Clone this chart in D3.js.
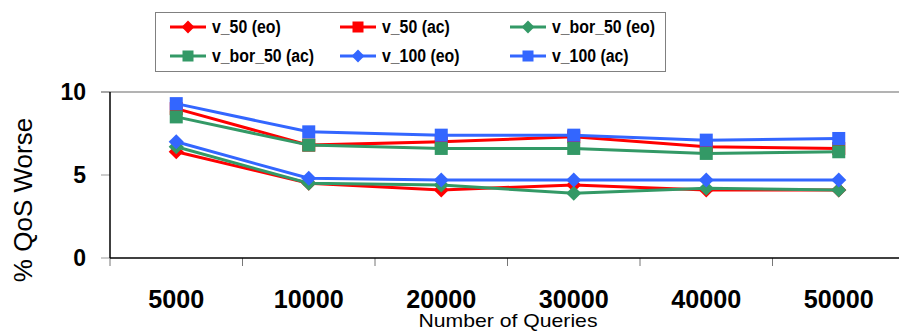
<!DOCTYPE html>
<html>
<head>
<meta charset="utf-8">
<script src="https://cdn.jsdelivr.net/npm/d3@7/dist/d3.min.js"></script>
<style>
html,body{margin:0;padding:0;background:#fff;}
svg{display:block;font-family:"Liberation Sans",Arial,sans-serif;}
</style>
</head>
<body>
<svg id="chart" width="899" height="332"></svg>
<script>
const categories = ["5000","10000","20000","30000","40000","50000"];
const yTicks = [0,5,10];
const seriesNames = ["v_50 (eo)","v_50 (ac)","v_bor_50 (eo)","v_bor_50 (ac)","v_100 (eo)","v_100 (ac)"];
const seriesColors = ["#ff0000","#ff0000","#339966","#339966","#3366ff","#3366ff"];
const seriesShapes = ["diamond","square","diamond","square","diamond","square"];
const v50_eo    = [6.4, 4.5, 4.1, 4.4, 4.1, 4.1];
const v50_ac    = [9.0, 6.8, 7.0, 7.3, 6.7, 6.6];
const vbor50_eo = [6.7, 4.5, 4.4, 3.9, 4.2, 4.1];
const vbor50_ac = [8.5, 6.8, 6.6, 6.6, 6.3, 6.4];
const v100_eo   = [7.0, 4.8, 4.7, 4.7, 4.7, 4.7];
const v100_ac   = [9.3, 7.6, 7.4, 7.4, 7.1, 7.2];
const seriesValues = [v50_eo, v50_ac, vbor50_eo, vbor50_ac, v100_eo, v100_ac];

const svg = d3.select("#chart");
const pLeft = 110, pRight = 905, pTop = 92, pBottom = 258;

const x = d3.scaleBand().domain(categories).range([pLeft, pRight]).padding(0);
const y = d3.scaleLinear().domain([0, 10]).range([pBottom, pTop]);

// gridline at top
svg.append("line").attr("x1", pLeft - 9).attr("x2", 899).attr("y1", y(10)).attr("y2", y(10))
  .attr("stroke", "#b3b3b3").attr("stroke-width", 2);

// y ticks
yTicks.forEach(t => {
  svg.append("line").attr("x1", pLeft - 9).attr("x2", pLeft).attr("y1", y(t)).attr("y2", y(t))
    .attr("stroke", "#999").attr("stroke-width", 1);
  svg.append("text").attr("x", 86).attr("y", y(t)).attr("dy", "0.36em")
    .attr("text-anchor", "end").attr("font-size", 23).attr("font-weight", "bold").text(t);
});

// x ticks at band boundaries
categories.forEach(c => {
  const b = x(c);
  svg.append("line").attr("x1", b).attr("x2", b).attr("y1", pBottom).attr("y2", pBottom + 8)
    .attr("stroke", "#777").attr("stroke-width", 1);
});
// axes lines
svg.append("line").attr("x1", pLeft).attr("x2", 899).attr("y1", pBottom).attr("y2", pBottom)
  .attr("stroke", "#000").attr("stroke-width", 1.5);
svg.append("line").attr("x1", pLeft).attr("x2", pLeft).attr("y1", pTop).attr("y2", pBottom)
  .attr("stroke", "#000").attr("stroke-width", 1.5);

// x labels
categories.forEach(c => {
  svg.append("text").attr("x", x(c) + x.bandwidth() / 2).attr("y", 308)
    .attr("text-anchor", "middle").attr("font-size", 25).attr("font-weight", "bold")
    .attr("textLength", c.length * 14).attr("lengthAdjust", "spacingAndGlyphs").text(c);
});

svg.append("text").attr("x", 508).attr("y", 327).attr("text-anchor", "middle")
  .attr("font-size", 19).attr("textLength", 179).attr("lengthAdjust", "spacingAndGlyphs")
  .text("Number of Queries");

svg.append("text").attr("transform", "translate(32,200) rotate(-90)")
  .attr("text-anchor", "middle").attr("font-size", 26).text("% QoS Worse");

function marker(g, shape, cx, cy, color, s) {
  if (shape === "square") {
    g.append("rect").attr("x", cx - s / 2).attr("y", cy - s / 2).attr("width", s).attr("height", s)
      .attr("fill", color);
  } else {
    const r = s * 0.58;
    g.append("path").attr("d", `M${cx},${cy - r}L${cx + r},${cy}L${cx},${cy + r}L${cx - r},${cy}Z`)
      .attr("fill", color);
  }
}

const line = d3.line().x((d, i) => x(categories[i]) + x.bandwidth() / 2).y(d => y(d));
seriesValues.forEach((vals, si) => {
  const g = svg.append("g");
  g.append("path").datum(vals).attr("d", line).attr("fill", "none")
    .attr("stroke", seriesColors[si]).attr("stroke-width", 3);
  vals.forEach((v, i) => marker(g, seriesShapes[si], x(categories[i]) + x.bandwidth() / 2, y(v), seriesColors[si], 13));
});

// legend
svg.append("rect").attr("x", 155.5).attr("y", 12.5).attr("width", 510).attr("height", 59)
  .attr("fill", "#fff").attr("stroke", "#808080").attr("stroke-width", 1);
const colX = [170, 340, 510];
const rowY = [27, 56];
seriesNames.forEach((name, i) => {
  const cx = colX[i % 3], cy = rowY[Math.floor(i / 3)];
  const g = svg.append("g");
  g.append("line").attr("x1", cx).attr("x2", cx + 36).attr("y1", cy).attr("y2", cy)
    .attr("stroke", seriesColors[i]).attr("stroke-width", 3);
  marker(g, seriesShapes[i], cx + 18, cy, seriesColors[i], 11);
  const t = g.append("text").attr("x", cx + 42).attr("y", cy).attr("dy", "0.36em")
    .attr("font-size", 18).attr("font-weight", "bold").text(name);
  const w = t.node().getComputedTextLength();
  t.attr("textLength", w * 0.88).attr("lengthAdjust", "spacingAndGlyphs");
});
</script>
</body>
</html>
